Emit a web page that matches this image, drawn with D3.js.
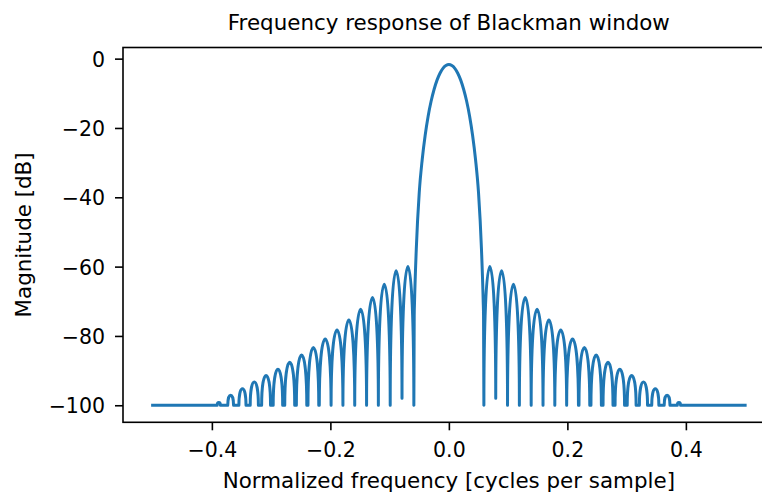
<!DOCTYPE html>
<html><head><meta charset="utf-8">
<script src="https://cdn.jsdelivr.net/npm/d3@7/dist/d3.min.js"></script>
<style>
body{margin:0;background:#fff}
svg{display:block}
text{font-family:"DejaVu Sans",sans-serif;fill:#000}
</style>
</head><body>
<svg id="chart" width="762" height="494"></svg>
<script>
// ---------------- data ----------------
const titleText = "Frequency response of Blackman window";
const xLabelText = "Normalized frequency [cycles per sample]";
const yLabelText = "Magnitude [dB]";
const xTicks = [-0.4, -0.2, 0.0, 0.2, 0.4];
const yTicks = [0, -20, -40, -60, -80, -100];
const xExtent = [-0.5, 0.5];
const floorDb = -100;

// main lobe
const mainFreq = [-0.0591, -0.0585, -0.058, -0.055, -0.05, -0.045, -0.04, -0.035, -0.03, -0.025, -0.02, -0.015, -0.01, -0.005, 0,
                  0.005, 0.01, 0.015, 0.02, 0.025, 0.03, 0.035, 0.04, 0.045, 0.05, 0.055, 0.058, 0.0585, 0.0591];
const mainDb   = [-100, -74, -70.4, -54.9, -38.6, -29.1, -22.1, -16.6, -12.3, -8.9, -6.2, -4.2, -2.8, -2.0, -1.7,
                  -2.0, -2.8, -4.2, -6.2, -8.9, -12.3, -16.6, -22.1, -29.1, -38.6, -54.9, -70.4, -74, -100];

// side lobes, positive side (ordered outward from the main lobe)
const posLobeStart   = [0.0591, 0.0791, 0.0990, 0.1190, 0.1389, 0.1589, 0.1788, 0.1988, 0.2196, 0.2398, 0.2602, 0.2805, 0.3010, 0.3215, 0.3424, 0.3634, 0.3856];
const posLobeStartDb = [-100, -98, -100, -100, -100, -100, -100, -100, -100, -100, -100, -100, -100, -100, -100, -100, -100];
const posPeakFreq    = [0.0691, 0.0890, 0.1090, 0.1289, 0.1489, 0.1688, 0.1888, 0.2087, 0.2287, 0.2486, 0.2686, 0.2885, 0.3085, 0.3284, 0.3484, 0.3683, 0.3883];
const posPeakDb      = [-60.0, -61.2, -65.1, -68.9, -72.3, -75.4, -78.3, -80.9, -83.3, -85.5, -87.6, -89.6, -91.4, -93.3, -95.2, -97.1, -99.2];
const posLobeEnd     = [0.0791, 0.0990, 0.1190, 0.1389, 0.1589, 0.1788, 0.1988, 0.2187, 0.2378, 0.2574, 0.2770, 0.2965, 0.3160, 0.3353, 0.3544, 0.3732, 0.3910];
const posLobeEndDb   = [-98, -100, -100, -100, -100, -100, -100, -100, -100, -100, -100, -100, -100, -100, -100, -100, -100];

// side lobes, negative side (ordered outward from the main lobe)
const negLobeStart   = [-0.0591, -0.0791, -0.0990, -0.1190, -0.1389, -0.1589, -0.1788, -0.1988, -0.2196, -0.2398, -0.2602, -0.2805, -0.3010, -0.3215, -0.3424, -0.3634, -0.3856];
const negLobeStartDb = [-100, -98, -100, -100, -100, -100, -100, -100, -100, -100, -100, -100, -100, -100, -100, -100, -100];
const negPeakFreq    = [-0.0691, -0.0890, -0.1090, -0.1289, -0.1489, -0.1688, -0.1888, -0.2087, -0.2287, -0.2486, -0.2686, -0.2885, -0.3085, -0.3284, -0.3484, -0.3683, -0.3883];
const negPeakDb      = [-60.0, -61.2, -65.1, -68.9, -72.3, -75.4, -78.3, -80.9, -83.3, -85.5, -87.6, -89.6, -91.4, -93.3, -95.2, -97.1, -99.2];
const negLobeEnd     = [-0.0791, -0.0990, -0.1190, -0.1389, -0.1589, -0.1788, -0.1988, -0.2187, -0.2378, -0.2574, -0.2770, -0.2965, -0.3160, -0.3353, -0.3544, -0.3732, -0.3910];
const negLobeEndDb   = [-98, -100, -100, -100, -100, -100, -100, -100, -100, -100, -100, -100, -100, -100, -100, -100, -100];

// ---------------- layout ----------------
const M = {left: 123, top: 47.5, right: 774.75, bottom: 422.3};
const allDb = mainDb.concat(posPeakDb, negPeakDb, [floorDb]);
const yMin = d3.min(allDb), yMax = d3.max(allDb);
const yPad = (yMax - yMin) * 0.05;
const xPad = (xExtent[1] - xExtent[0]) * 0.05;

const x = d3.scaleLinear().domain([xExtent[0] - xPad, xExtent[1] + xPad]).range([M.left, M.right]);
const y = d3.scaleLinear().domain([yMin - yPad, yMax + yPad]).range([M.bottom, M.top]);

const svg = d3.select("#chart");
const color = "#1f77b4";

// ---------------- curve ----------------
const K = 0.6;
function lobe(p, fs, ds, fp, dp, fe, de) {
  const x0 = x(fs), y0 = y(ds), x1 = x(fp), y1 = y(dp), x2 = x(fe), y2 = y(de);
  p.lineTo(x0, y0);
  p.bezierCurveTo(x0, y0 + K * (y1 - y0), x1 - K * (x1 - x0), y1, x1, y1);
  p.bezierCurveTo(x1 + K * (x2 - x1), y1, x2, y2 - K * (y2 - y1), x2, y2);
}

const pNeg = d3.path();
pNeg.moveTo(x(xExtent[0]), y(floorDb));
for (let i = negPeakFreq.length - 1; i >= 0; i--) {
  lobe(pNeg, negLobeEnd[i], negLobeEndDb[i], negPeakFreq[i], negPeakDb[i], negLobeStart[i], negLobeStartDb[i]);
}
const mainPts = mainFreq.map((f, i) => [f, mainDb[i]]);
const mainStr = d3.line().x(d => x(d[0])).y(d => y(d[1])).curve(d3.curveMonotoneX)(mainPts);
const pPos = d3.path();
for (let i = 0; i < posPeakFreq.length; i++) {
  lobe(pPos, posLobeStart[i], posLobeStartDb[i], posPeakFreq[i], posPeakDb[i], posLobeEnd[i], posLobeEndDb[i]);
}
pPos.lineTo(x(xExtent[1]), y(floorDb));

const dAll = pNeg.toString() + mainStr.replace(/^M/, "L") + pPos.toString();

svg.append("path")
  .attr("d", dAll)
  .attr("fill", "none")
  .attr("stroke", color)
  .attr("stroke-width", 3)
  .attr("stroke-linejoin", "round")
  .attr("stroke-linecap", "square");

// ---------------- axes ----------------
const tickFont = 20.5;
const fmtX = d => d3.format(".1f")(d).replace("-", "\u2212");
const fmtY = d => d3.format("d")(d).replace("-", "\u2212");

const xAxis = d3.axisBottom(x).tickValues(xTicks).tickFormat(fmtX).tickSize(8).tickPadding(8);
const yAxis = d3.axisLeft(y).tickValues(yTicks).tickFormat(fmtY).tickSize(8).tickPadding(10);

const gx = svg.append("g").attr("transform", `translate(0,${M.bottom})`).call(xAxis);
const gy = svg.append("g").attr("transform", `translate(${M.left},0)`).call(yAxis);
[gx, gy].forEach(g => {
  g.select(".domain").remove();
  g.selectAll(".tick line").attr("stroke", "#000").attr("stroke-width", 1.6);
  g.selectAll(".tick text").attr("font-size", tickFont).attr("font-family", "DejaVu Sans").attr("fill", "#000");
});
gx.selectAll(".tick text").attr("dy", null).attr("y", 35);
gy.selectAll(".tick text").attr("dy", "0.36em");

svg.append("rect")
  .attr("x", M.left).attr("y", M.top)
  .attr("width", M.right - M.left).attr("height", M.bottom - M.top)
  .attr("fill", "none").attr("stroke", "#000").attr("stroke-width", 1.6)
  .attr("stroke-linejoin", "miter");

// ---------------- text ----------------
svg.append("text").attr("x", (M.left + M.right) / 2).attr("y", 30)
  .attr("text-anchor", "middle").attr("font-size", 21.4).text(titleText);
svg.append("text").attr("x", (M.left + M.right) / 2).attr("y", 488)
  .attr("text-anchor", "middle").attr("font-size", 21.4).text(xLabelText);
svg.append("text").attr("transform", `translate(31,${(M.top + M.bottom) / 2}) rotate(-90)`)
  .attr("text-anchor", "middle").attr("font-size", 21.4).text(yLabelText);
</script>
</body></html>
